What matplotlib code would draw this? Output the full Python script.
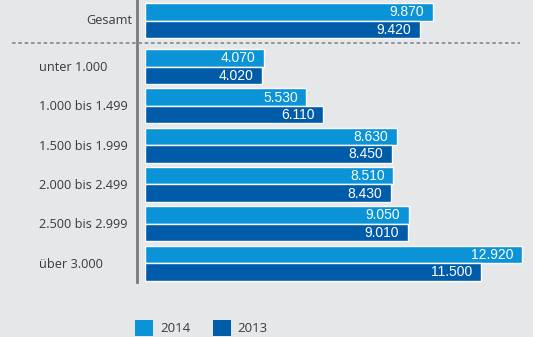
import numpy as np
import matplotlib
matplotlib.use("Agg")
import matplotlib.pyplot as plt
from matplotlib.patches import Patch
from matplotlib.transforms import blended_transform_factory

# data
categories = ["Gesamt", "unter 1.000", "1.000 bis 1.499", "1.500 bis 1.999",
              "2.000 bis 2.499", "2.500 bis 2.999", "über 3.000"]
values_2014 = [9870, 4070, 5530, 8630, 8510, 9050, 12920]
values_2013 = [9420, 4020, 6110, 8450, 8430, 9010, 11500]

bg = "#e6e7e9"
c2014 = "#0a93d6"
c2013 = "#005ca8"
txt = "#3a3a3a"

W, H = 533, 337
fig = plt.figure(figsize=(W / 100, H / 100), dpi=100, facecolor=bg)

# axes in pixel-like units: y runs top to bottom
ax = fig.add_axes([145 / W, 0, (W - 145) / W, 1])
ax.set_facecolor(bg)
ax.set_xlim(0, (W - 145) / 0.0292)
ax.set_ylim(H, 0)
ax.axis("off")

# group centres (first group separated by the dashed line)
centres = np.r_[20.5, 66.5 + 39.3 * np.arange(len(categories) - 1)]
bh = 17.5

ax.barh(centres - bh / 2, values_2014, height=bh, color=c2014,
        edgecolor="white", linewidth=1, label="2014")
ax.barh(centres + bh / 2, values_2013, height=bh, color=c2013,
        edgecolor="white", linewidth=1, label="2013")

for yc, v14, v13 in zip(centres, values_2014, values_2013):
    for y, v in ((yc - bh / 2, v14), (yc + bh / 2, v13)):
        s = f"{v:,}".replace(",", ".")
        ax.text(v - 300, y + 0.5, s, ha="right", va="center", color="white",
                fontsize=10, family="Liberation Sans")

# category labels
trans = blended_transform_factory(fig.transFigure, ax.transData)
ax.text(132 / W, centres[0], categories[0], transform=trans, ha="right",
        va="center", color=txt, fontsize=9.2, family="Open Sans", clip_on=False)
for yc, cat in zip(centres[1:], categories[1:]):
    ax.text(39 / W, yc + 1, cat, transform=trans, ha="left", va="center",
            color=txt, fontsize=9.2, family="Open Sans", clip_on=False)

# vertical axis line and dashed separator
ax.plot([137 / W, 137 / W], [0, 282], transform=trans, color="#7a7a7a",
        lw=2, clip_on=False)
ax.plot([12 / W, 520 / W], [43, 43], transform=trans, color="#8a8f99",
        lw=1.3, ls=(0, (2, 1.5)), clip_on=False)

# legend
handles = [Patch(facecolor=c2014, label="2014"), Patch(facecolor=c2013, label="2013")]
leg = fig.legend(handles=handles, loc="lower left", bbox_to_anchor=(123 / W, -0.031),
                 ncol=2, frameon=False, handlelength=1.4, handleheight=1.4,
                 columnspacing=1.7, handletextpad=0.5, fontsize=9.5)
for t in leg.get_texts():
    t.set_color(txt)
    t.set_family("Open Sans")

fig.savefig("out.png", dpi=100, facecolor=bg)
